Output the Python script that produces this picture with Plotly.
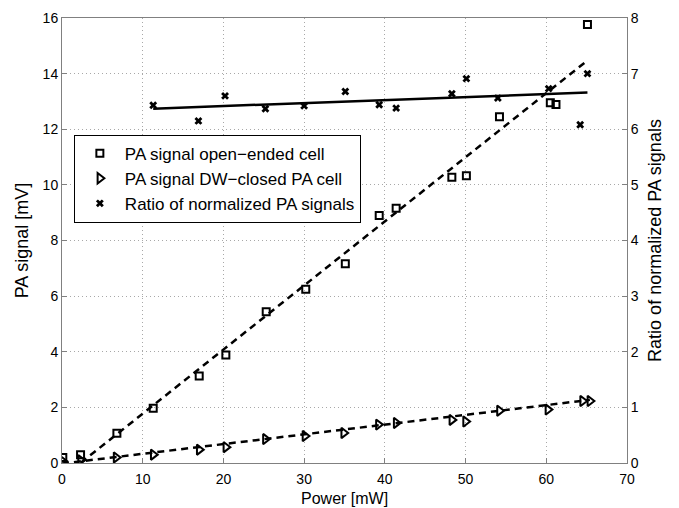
import plotly.graph_objects as go

# ---- data ----
power_open = [0.1, 2.3, 6.8, 11.3, 17.0, 20.3, 25.3, 30.2, 35.1, 39.3, 41.4, 48.3, 50.1, 54.2, 60.5, 61.2, 65.1]
pa_open = [0.2, 0.3, 1.07, 1.97, 3.13, 3.88, 5.44, 6.25, 7.16, 8.9, 9.16, 10.27, 10.33, 12.45, 12.95, 12.89, 15.77]

power_closed = [0.1, 2.3, 6.7, 11.3, 17.0, 20.3, 25.2, 30.1, 34.9, 39.2, 41.4, 48.3, 50.0, 54.2, 60.2, 64.5, 65.4]
pa_closed = [0.06, 0.1, 0.2, 0.3, 0.48, 0.57, 0.86, 0.97, 1.08, 1.38, 1.44, 1.55, 1.49, 1.88, 1.92, 2.23, 2.23]

power_ratio = [11.3, 16.9, 20.2, 25.2, 30.0, 35.1, 39.3, 41.4, 48.3, 50.1, 54.0, 60.3, 64.2, 65.1]
ratio = [6.43, 6.15, 6.6, 6.37, 6.42, 6.68, 6.44, 6.38, 6.64, 6.91, 6.56, 6.73, 6.08, 7.0]

fit_open_x = [0.0, 65.0]
fit_open_y = [-0.53, 14.45]
fit_closed_x = [0.0, 65.4]
fit_closed_y = [-0.02, 2.27]
fit_ratio_x = [11.3, 65.1]
fit_ratio_y = [6.37, 6.66]

legend_names = ["PA signal open\u2212ended cell",
                "PA signal DW\u2212closed PA cell",
                "Ratio of normalized PA signals"]
x_title = "Power [mW]"

FONT = "Liberation Sans, Arial, Helvetica, sans-serif"
GRID = "#a8a8a8"
AXIS = "#808080"

fig = go.Figure()

# fit lines (no legend)
fig.add_trace(go.Scatter(x=fit_open_x, y=fit_open_y, mode="lines", showlegend=False,
                         line=dict(color="black", width=2.5, dash="7px,5px"), hoverinfo="skip"))
fig.add_trace(go.Scatter(x=fit_closed_x, y=fit_closed_y, mode="lines", showlegend=False,
                         line=dict(color="black", width=2.5, dash="7px,5px"), hoverinfo="skip"))
fig.add_trace(go.Scatter(x=fit_ratio_x, y=fit_ratio_y, mode="lines", showlegend=False, yaxis="y2",
                         line=dict(color="black", width=2.5), hoverinfo="skip"))

# markers
fig.add_trace(go.Scatter(x=power_open, y=pa_open, mode="markers", name=legend_names[0],
                         marker=dict(symbol="square-open", size=7, color="black",
                                     line=dict(color="black", width=2))))
fig.add_trace(go.Scatter(x=power_closed, y=pa_closed, mode="markers", name=legend_names[1],
                         marker=dict(symbol="triangle-right-open", size=9, color="black",
                                     line=dict(color="black", width=2))))
fig.add_trace(go.Scatter(x=power_ratio, y=ratio, mode="markers", name=legend_names[2], yaxis="y2",
                         marker=dict(symbol="x", size=7, color="black",
                                     line=dict(color="black", width=0))))

axis_common = dict(showline=True, linecolor=AXIS, linewidth=1, ticks="inside", ticklen=5,
                   tickcolor=AXIS, zeroline=False, tickfont=dict(size=14, color="black"),
                   showgrid=True, gridcolor=GRID, griddash="1px,3px", gridwidth=1,
                   automargin=False)

fig.update_layout(
    width=679, height=508,
    margin=dict(l=62, r=52, t=18, b=45),
    paper_bgcolor="white", plot_bgcolor="white",
    font=dict(family=FONT, color="black"),
    xaxis=dict(range=[0, 70], dtick=10, mirror=True, ticklabelstandoff=3,
               **axis_common),
    yaxis=dict(range=[0, 16], dtick=2,
               title=dict(text="PA signal [mV]", font=dict(size=18), standoff=9),
               **axis_common),
    yaxis2=dict(range=[0, 8], dtick=1, overlaying="y", side="right",
                title=dict(text="Ratio of normalized PA signals", font=dict(size=18), standoff=10),
                **{**axis_common, "showgrid": False}),
    legend=dict(x=0.021, y=0.738, xanchor="left", yanchor="top",
                bgcolor="white", bordercolor="black", borderwidth=1,
                font=dict(size=17), itemwidth=40),
    showlegend=True,
    annotations=[dict(text=x_title, xref="paper", yref="paper", x=0.5, y=-0.101,
                      xanchor="center", yanchor="bottom", showarrow=False, borderpad=0,
                      font=dict(size=16, color="black"))],
)

fig.write_html("out.html")
